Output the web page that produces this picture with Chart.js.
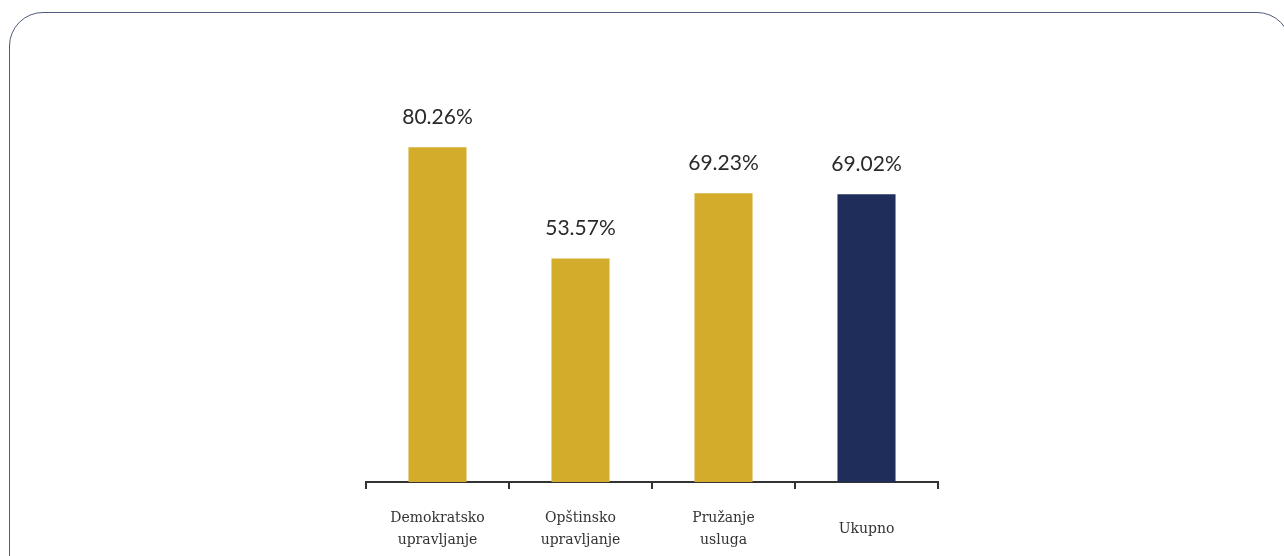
<!DOCTYPE html>
<html>
<head>
<meta charset="utf-8">
<script src="https://cdn.jsdelivr.net/npm/chart.js@4.4.1/dist/chart.umd.min.js"></script>
<style>
  html, body { margin: 0; padding: 0; background: #fff; }
  body { width: 1284px; height: 556px; position: relative; overflow: hidden; }
  .card { position: absolute; left: 9px; top: 12px; width: 1282px; height: 600px; border: 1.5px solid #4f5a7c; border-radius: 34px; box-sizing: border-box; }
  .wrap { position: absolute; left: 0; top: 0; width: 1284px; height: 556px; }
</style>
</head>
<body>
<div class="card"></div>
<div class="wrap"><canvas id="chart"></canvas></div>
<script>
const categories = [['Demokratsko', 'upravljanje'], ['Opštinsko', 'upravljanje'], ['Pružanje', 'usluga'], 'Ukupno'];
const values = [80.26, 53.57, 69.23, 69.02];
const barColors = ['#d4ac2b', '#d4ac2b', '#d4ac2b', '#1e2d5a'];

const valueLabels = {
  id: 'valueLabels',
  afterDatasetsDraw(chart) {
    const { ctx } = chart;
    const meta = chart.getDatasetMeta(0);
    ctx.save();
    ctx.font = '21px Lato';
    ctx.fillStyle = '#2a2a2a';
    ctx.textAlign = 'center';
    ctx.textBaseline = 'middle';
    meta.data.forEach((bar, i) => {
      ctx.fillText(values[i].toFixed(2) + '%', bar.x, bar.y - 30);
    });
    ctx.restore();
  },
};

new Chart(document.getElementById('chart'), {
  type: 'bar',
  data: {
    labels: categories,
    datasets: [{ data: values, backgroundColor: barColors, categoryPercentage: 1, barPercentage: 0.406 }],
  },
  options: {
    responsive: true,
    maintainAspectRatio: false,
    animation: false,
    layout: { padding: { left: 366, right: 346, top: 65, bottom: 0 } },
    plugins: { legend: { display: false }, tooltip: { enabled: false } },
    scales: {
      y: { display: false, min: 0, max: 100 },
      x: {
        afterFit: (scale) => { scale.height = 74; },
        border: { display: true, color: '#333', width: 2 },
        grid: { display: true, drawOnChartArea: false, drawTicks: true, tickLength: 7, color: '#333', lineWidth: 2, offset: true },
        ticks: { color: '#333', font: { family: 'DejaVu Serif', size: 14, lineHeight: 1.57 }, padding: 29, crossAlign: 'center' },
      },
    },
  },
  plugins: [valueLabels],
});
</script>
</body>
</html>
